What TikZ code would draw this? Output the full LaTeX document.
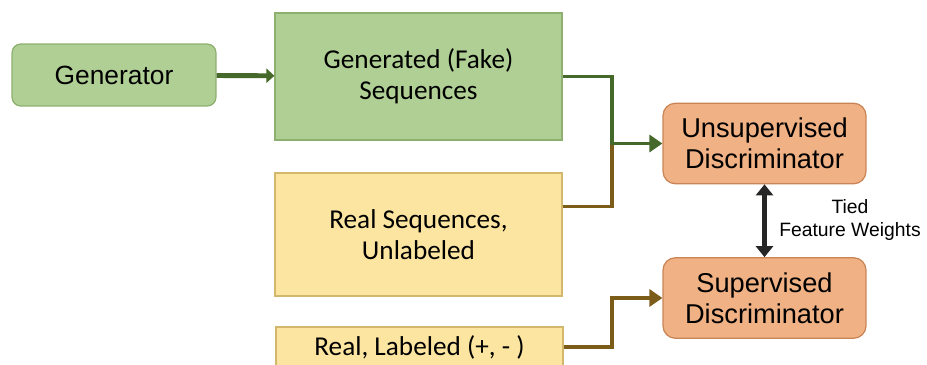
\documentclass[tikz,border=0pt]{standalone}
\usepackage{fontspec}
\setmainfont{Liberation Sans}
\newfontfamily\calfont{Carlito}
\usetikzlibrary{arrows.meta,positioning}
\definecolor{gfill}{HTML}{AFCF94}
\definecolor{gline}{HTML}{8DB070}
\definecolor{garr}{HTML}{44692A}
\definecolor{yfill}{HTML}{FBE5A0}
\definecolor{yline}{HTML}{D2B76C}
\definecolor{yarr}{HTML}{7B5C18}
\definecolor{ofill}{HTML}{F0B184}
\definecolor{oline}{HTML}{C98455}
\tikzset{
  genbox/.style={draw=gline, fill=gfill, line width=0.7pt, rounded corners=5pt,
    minimum width=4.08cm, minimum height=1.24cm, font=\fontsize{15}{18}\selectfont},
  seqbox/.style={draw=#1, line width=0.7pt, minimum width=5.74cm,
    align=center, font=\calfont\fontsize{15.5}{17.6}\selectfont},
  discbox/.style={draw=oline, fill=ofill, line width=0.7pt, rounded corners=7pt,
    minimum width=4.06cm, minimum height=1.61cm, align=center,
    font=\fontsize{15.5}{17.6}\selectfont},
  feed/.style={-{Triangle[length=2.6mm, width=3.4mm]}, line width=2pt},
  tie/.style={{Triangle[length=2.2mm, width=3.4mm]}-{Triangle[length=2.2mm, width=3.4mm]},
    line width=2.4pt, black!85},
}

\begin{document}
\begin{tikzpicture}[x=0.02cm, y=-0.02cm]
\clip (0,0) rectangle (927,365);
\useasboundingbox (0,0) rectangle (927,365);

% generator and the three sequence sources
\node[genbox] (gen) at (114,75) {Generator};
\node[seqbox=gline, fill=gfill, minimum height=2.54cm] (fake) at (418.5,76.5)
  {Generated (Fake)\\Sequences};
\node[seqbox=yline, fill=yfill, minimum height=2.46cm] (unlab) at (418.5,234.5)
  {Real Sequences,\\Unlabeled};
\node[seqbox=yline, fill=yfill, minimum height=0.8cm] (lab) at (419.5,347)
  {Real, Labeled (+, - )};

% the two discriminators
\node[discbox] (unsup) at (764.5,143.5) {Unsupervised\\Discriminator};
\node[discbox] (sup) at (764.5,298) {Supervised\\Discriminator};
\node[font=\fontsize{11}{13.6}\selectfont, align=center] (tied) at (850,220)
  {Tied\\Feature Weights};

% merge point of the unsupervised inputs
\coordinate (merge) at (612,143.5);

\draw[feed, garr, line width=2.8pt, -{Triangle[length=1.6mm, width=2.8mm]}]
  (gen) -- (fake);
\draw[yarr, line width=2pt] (unlab.north east) ++(0,34) -| (merge);
\draw[feed, garr] (fake.east) -| (merge) -- (unsup.west);
\draw[feed, yarr] (lab.east) -| (612,298) -- (sup.west);
\draw[tie] (unsup.south) -- (sup.north);
\end{tikzpicture}
\end{document}
